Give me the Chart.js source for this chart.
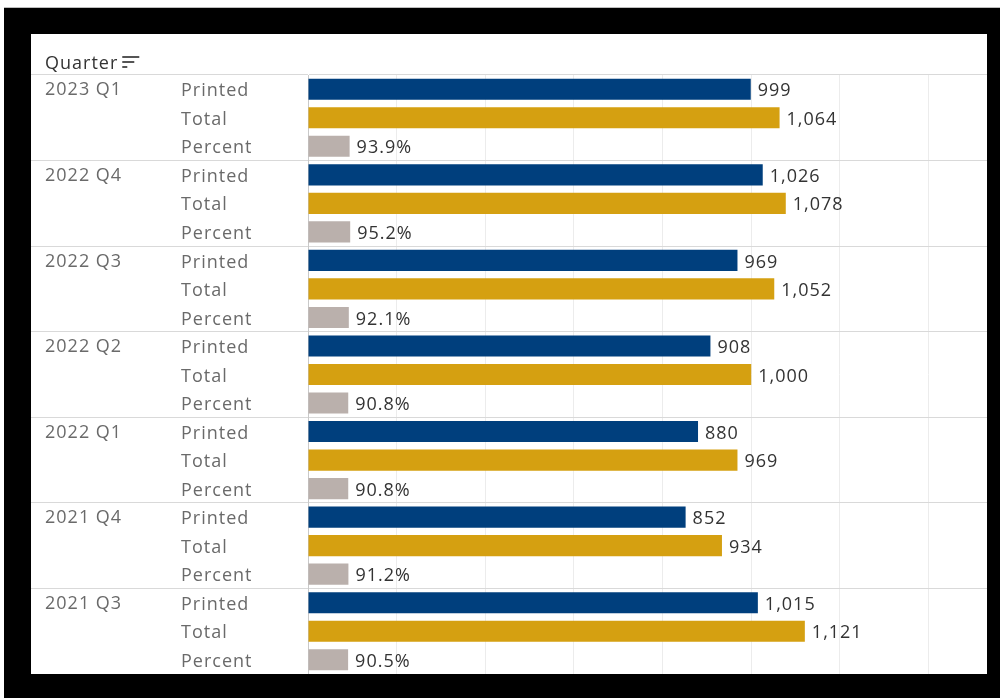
<!DOCTYPE html>
<html>
<head>
<meta charset="utf-8">
<script src="https://cdn.jsdelivr.net/npm/chart.js@4.4.1/dist/chart.umd.min.js"></script>
<style>
  html, body { margin: 0; padding: 0; background: #fff; width: 1000px; height: 698px; overflow: hidden; }
  .frame { position: absolute; left: 4px; top: 7px; width: 996px; height: 691px; background: #000; border-top: 1px solid #bdbdbd; box-sizing: border-box; }
  .panel { position: absolute; left: 31px; top: 34px; width: 956px; height: 640px; background: #fff; }
</style>
</head>
<body>
<div class="frame"></div>
<div class="panel"><canvas id="quarter-chart"></canvas></div>
<script>
// ── Data ──────────────────────────────────────────────────────
const quarters = ['2023 Q1', '2022 Q4', '2022 Q3', '2022 Q2', '2022 Q1', '2021 Q4', '2021 Q3'];
const measures = ['Printed', 'Total', 'Percent'];
const printed  = [999, 1026, 969, 908, 880, 852, 1015];
const total    = [1064, 1078, 1052, 1000, 969, 934, 1121];
const percent  = [93.9, 95.2, 92.1, 90.8, 90.8, 91.2, 90.5];
const xTicks   = [0, 200, 400, 600, 800, 1000, 1200, 1400];

const COLORS = ['#003f7d', '#d5a011', '#bab0ac'];
const LABEL_FONT = '18px "Open Sans", sans-serif';

function fmtValue(v, datasetIndex) {
  if (datasetIndex === 2) return v.toFixed(1) + '%';
  return v.toLocaleString('en-US');
}

// Left-hand table text, header and bar value labels
const tableText = {
  id: 'tableText',
  afterDatasetsDraw(chart) {
    const ctx = chart.ctx;
    ctx.save();
    ctx.font = LABEL_FONT;
    ctx.letterSpacing = '1px';
    ctx.textBaseline = 'middle';

    // header with sort glyph
    ctx.fillStyle = '#333';
    ctx.fillText('Quarter', 14, 30);
    const hw = ctx.measureText('Quarter').width;
    ctx.fillStyle = '#555';
    ctx.fillRect(14 + hw + 4, 22, 17, 2);
    ctx.fillRect(14 + hw + 4, 27, 12, 2);
    ctx.fillRect(14 + hw + 4, 32, 5, 2);

    chart.data.datasets.forEach((ds, d) => {
      const meta = chart.getDatasetMeta(d);
      meta.data.forEach((bar, i) => {
        ctx.fillStyle = '#6a6a6a';
        if (d === 0) ctx.fillText(quarters[i], 14, bar.y + 1);
        ctx.fillText(measures[d], 150, bar.y + 2);
        ctx.fillStyle = '#333';
        ctx.fillText(fmtValue(ds.data[i], d), bar.x + 7, bar.y + 2);
      });
    });
    ctx.restore();
  },
};

new Chart(document.getElementById('quarter-chart'), {
  type: 'bar',
  data: {
    labels: quarters,
    datasets: [
      { label: measures[0], data: printed, backgroundColor: COLORS[0] },
      { label: measures[1], data: total,   backgroundColor: COLORS[1] },
      { label: measures[2], data: percent, backgroundColor: COLORS[2] },
    ],
  },
  options: {
    indexAxis: 'y',
    responsive: true,
    maintainAspectRatio: false,
    animation: false,
    datasets: { bar: { categoryPercentage: 1, barPercentage: 0.74 } },
    layout: { padding: { top: 41, right: 0, bottom: 0, left: 0 } },
    plugins: { legend: { display: false }, tooltip: { enabled: false } },
    scales: {
      x: {
        min: 0,
        max: 1532,
        afterBuildTicks: scale => { scale.ticks = xTicks.map(v => ({ value: v })); },
        afterFit: scale => { scale.height = 0; },
        ticks: { display: false },
        grid: { color: '#ececec', drawTicks: false },
        border: { display: false },
      },
      y: {
        afterFit: scale => { scale.width = 277; },
        ticks: { display: false },
        grid: { color: '#d9d9d9', offset: true, drawTicks: true, tickLength: 277 },
        border: { display: true, color: '#c9c9c9' },
      },
    },
  },
  plugins: [tableText],
});
</script>
</body>
</html>
